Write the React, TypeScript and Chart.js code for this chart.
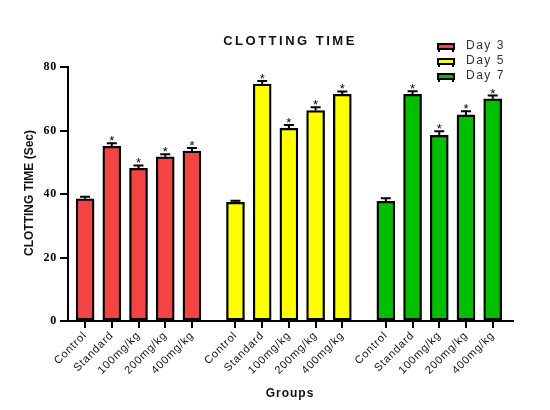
import React, { useEffect, useRef } from 'react';
import { Chart, registerables } from 'chart.js';

Chart.register(...registerables);

const categories = ['Control', 'Standard', '100mg/kg', '200mg/kg', '400mg/kg'];
const seriesNames = ['Day 3', 'Day 5', 'Day 7'];
const day3 = [38.5, 55.0, 48.1, 51.7, 53.5];
const day3Err = [0.6, 1.0, 0.9, 0.8, 1.0];
const day5 = [37.4, 74.6, 60.7, 66.3, 71.4];
const day5Err = [0.5, 1.0, 1.0, 1.0, 0.9];
const day7 = [37.7, 71.4, 58.5, 64.9, 70.0];
const day7Err = [1.0, 1.0, 1.3, 1.2, 1.0];
const significant = [false, true, true, true, true];
const yTicks = [0, 20, 40, 60, 80];

const seriesValues = [day3, day5, day7];
const seriesErrors = [day3Err, day5Err, day7Err];
const colors = ['#F44343', '#FFFF00', '#00BE00'];

const GROUP_GAP = 0.63;
const pos = (g: number, i: number) => g * (categories.length + GROUP_GAP) + i;
const allPositions: number[] = [];
seriesValues.forEach((_, g) => categories.forEach((_, i) => allPositions.push(pos(g, i))));

const FONT = "'Liberation Sans', Arial, sans-serif";

const drawPlugin = {
  id: 'customDraw',
  beforeDraw(chart: any) {
    chart.ctx.letterSpacing = '0.8px';
  },
  beforeDatasetsDraw(chart: any) {
    chart.ctx.letterSpacing = '0px';
  },
  afterDatasetsDraw(chart: any) {
    const ctx = chart.ctx;
    const yScale = chart.scales.y;
    ctx.save();
    ctx.letterSpacing = '0px';
    seriesValues.forEach((vals, d) => {
      const meta = chart.getDatasetMeta(d);
      vals.forEach((v, i) => {
        const el = meta.data[i];
        const x = el.x;
        const yTop = yScale.getPixelForValue(v);
        const yErr = yScale.getPixelForValue(v + seriesErrors[d][i]);
        ctx.strokeStyle = '#000';
        ctx.lineWidth = 2;
        ctx.beginPath();
        ctx.moveTo(x, yTop);
        ctx.lineTo(x, yErr);
        ctx.moveTo(x - 5, yErr);
        ctx.lineTo(x + 5, yErr);
        ctx.stroke();
        if (significant[i]) {
          ctx.fillStyle = '#000';
          ctx.font = `13px ${FONT}`;
          ctx.textAlign = 'center';
          ctx.textBaseline = 'alphabetic';
          ctx.fillText('*', x, yErr + 2);
        }
      });
    });
    ctx.restore();
  },
  afterDraw(chart: any) {
    const ctx = chart.ctx;
    ctx.save();
    // Title
    ctx.fillStyle = '#111';
    ctx.font = `bold 13px ${FONT}`;
    ctx.letterSpacing = '2.5px';
    ctx.textAlign = 'center';
    ctx.textBaseline = 'middle';
    ctx.fillText('CLOTTING TIME', 282, 33);
    // X title
    ctx.font = `bold 12px ${FONT}`;
    ctx.letterSpacing = '1px';
    ctx.fillText('Groups', 282, 386);
    // Y title
    ctx.save();
    ctx.translate(22, 185);
    ctx.rotate(-Math.PI / 2);
    ctx.letterSpacing = '0px';
    ctx.fillText('CLOTTING TIME (Sec)', 0, 0);
    ctx.restore();
    // Legend
    seriesNames.forEach((name, i) => {
      const rowY = 38 + i * 15;
      ctx.fillStyle = colors[i];
      ctx.fillRect(430, rowY - 2, 16, 5);
      ctx.strokeStyle = '#000';
      ctx.lineWidth = 2;
      ctx.strokeRect(430, rowY - 2, 16, 5);
      ctx.beginPath();
      ctx.moveTo(431, rowY + 3);
      ctx.lineTo(431, rowY + 6);
      ctx.moveTo(445, rowY + 3);
      ctx.lineTo(445, rowY + 6);
      ctx.stroke();
      ctx.fillStyle = '#333';
      ctx.font = `12px ${FONT}`;
      ctx.letterSpacing = '1.5px';
      ctx.textAlign = 'left';
      ctx.textBaseline = 'middle';
      ctx.fillText(name, 458, rowY);
    });
    ctx.restore();
  },
};

export default function App() {
  const canvasRef = useRef<HTMLCanvasElement | null>(null);

  useEffect(() => {
    if (!canvasRef.current) return;
    const chart = new Chart(canvasRef.current, {
      type: 'bar',
      data: {
        datasets: seriesValues.map((vals, g) => ({
          label: seriesNames[g],
          data: vals.map((v, i) => ({ x: pos(g, i), y: v })),
          backgroundColor: colors[g],
          borderColor: '#000',
          borderWidth: 2.3,
          borderSkipped: false,
          barThickness: 18,
          grouped: false,
        })),
      },
      options: {
        animation: false,
        responsive: true,
        maintainAspectRatio: false,
        layout: { padding: { top: 59, right: 29, left: 0, bottom: 0 } },
        plugins: {
          legend: { display: false },
          title: { display: false },
          tooltip: { enabled: false },
        },
        scales: {
          x: {
            type: 'linear',
            min: -0.64,
            max: pos(2, 4) + 0.76,
            offset: false,
            afterBuildTicks: (scale: any) => {
              scale.ticks = allPositions.map((v) => ({ value: v }));
            },
            afterFit: (scale: any) => {
              scale.height = 81;
            },
            ticks: {
              autoSkip: false,
              minRotation: 45,
              maxRotation: 45,
              padding: 1,
              color: '#111',
              font: { family: FONT, size: 11 },
              callback: (_v: any, idx: number) => categories[idx % categories.length],
            },
            grid: {
              display: true,
              offset: false,
              drawOnChartArea: false,
              drawTicks: true,
              tickLength: 7,
              color: '#000',
              lineWidth: 2,
            },
            border: { display: true, color: '#000', width: 2 },
          },
          y: {
            min: 0,
            max: 80,
            afterBuildTicks: (scale: any) => {
              scale.ticks = yTicks.map((v) => ({ value: v }));
            },
            afterFit: (scale: any) => {
              scale.width = 60;
            },
            ticks: {
              color: '#000',
              padding: 3,
              font: { family: "'Liberation Serif', 'Times New Roman', serif", size: 12, weight: 'bold' },
            },
            grid: {
              display: true,
              drawOnChartArea: false,
              drawTicks: true,
              tickLength: 8,
              color: '#000',
              lineWidth: 2,
            },
            border: { display: true, color: '#000', width: 2 },
          },
        },
      } as any,
      plugins: [drawPlugin],
    });
    return () => chart.destroy();
  }, []);

  return (
    <div style={{ width: 534, height: 394, position: 'relative' }}>
      <canvas ref={canvasRef} />
    </div>
  );
}
